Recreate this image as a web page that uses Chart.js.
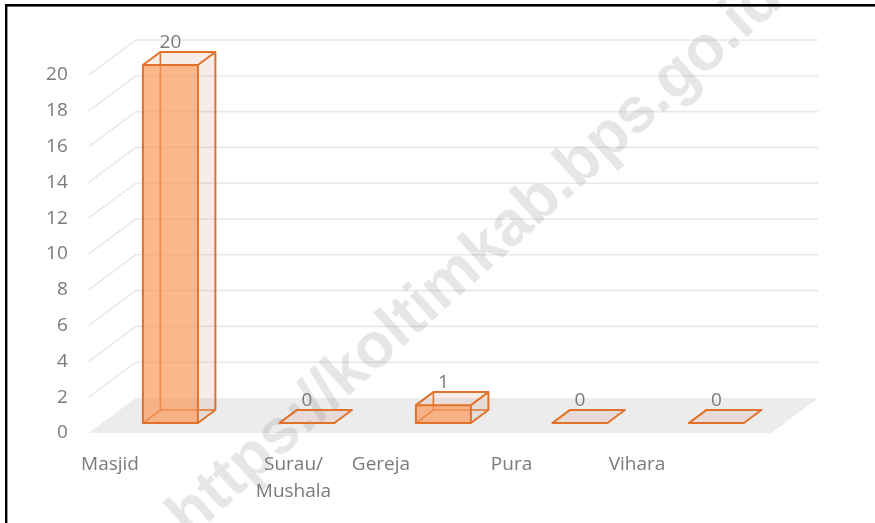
<!DOCTYPE html>
<html>
<head>
<meta charset="utf-8">
<script src="https://cdn.jsdelivr.net/npm/chart.js@4.4.0/dist/chart.umd.min.js"></script>
<style>
  html, body { margin: 0; padding: 0; background: #fff; }
  #wrap { width: 875px; height: 523px; }
</style>
</head>
<body>
<div id="wrap"><canvas id="chart"></canvas></div>
<script>
// Jumlah tempat ibadah
const categories = ['Masjid', ['Surau/', 'Mushala'], 'Gereja', 'Pura', 'Vihara'];
const values = [20, 0, 1, 0, 0];
const yTicks = [0, 2, 4, 6, 8, 10, 12, 14, 16, 18, 20];

// 3D look (pixels)
const DX = 47, DY = -35;          // floor depth
const FRONT = 0.285, BACK = 0.657; // bar depth position on the floor
const labelShift = [-47, 0, -49, -55, -66];
const textColor = '#7a7a7a';
const font = '19px "Open Sans", sans-serif';

const box3d = {
    id: 'box3d',
    beforeDatasetsDraw(chart) {
        const { ctx, chartArea: a, scales: { y } } = chart;
        ctx.save();
        // back wall + side wall gridlines
        ctx.strokeStyle = '#e9e9e9';
        ctx.lineWidth = 1.6;
        yTicks.forEach(v => {
            if (v === 0) return;
            const py = y.getPixelForValue(v);
            ctx.beginPath();
            ctx.moveTo(a.left, py);
            ctx.lineTo(a.left + DX, py + DY);
            ctx.lineTo(a.right + DX, py + DY);
            ctx.stroke();
        });
        // floor
        const fy = y.getPixelForValue(0);
        ctx.fillStyle = '#ececec';
        ctx.beginPath();
        ctx.moveTo(a.left, fy);
        ctx.lineTo(a.right, fy);
        ctx.lineTo(a.right + DX, fy + DY);
        ctx.lineTo(a.left + DX, fy + DY);
        ctx.closePath();
        ctx.fill();

        // watermark
        ctx.translate(476, 258);
        ctx.rotate(-42 * Math.PI / 180);
        ctx.fillStyle = 'rgba(120,120,120,0.19)';
        ctx.font = 'bold 63px "Liberation Sans", Arial, sans-serif';
        ctx.textAlign = 'center';
        ctx.textBaseline = 'middle';
        ctx.fillText('https://koltimkab.bps.go.id', 0, 0);
        ctx.restore();
    },
    afterDatasetsDraw(chart) {
        const { ctx, scales: { x } } = chart;
        const meta = chart.getDatasetMeta(0);
        const fx = DX * FRONT, fyo = DY * FRONT;
        const bx = DX * (BACK - FRONT), by = DY * (BACK - FRONT);
        ctx.save();
        ctx.lineJoin = 'round';
        meta.data.forEach((bar, i) => {
            const x0 = bar.x - bar.width / 2 + fx, x1 = bar.x + bar.width / 2 + fx;
            const yT = bar.y + fyo, yB = bar.base + fyo;
            const light = 'rgba(190,110,70,0.13)';
            const edge = '#e2712b';
            // side and top faces
            ctx.fillStyle = light;
            ctx.beginPath();
            ctx.moveTo(x1, yT); ctx.lineTo(x1 + bx, yT + by);
            ctx.lineTo(x1 + bx, yB + by); ctx.lineTo(x1, yB);
            ctx.closePath(); ctx.fill();
            ctx.beginPath();
            ctx.moveTo(x0, yT); ctx.lineTo(x1, yT);
            ctx.lineTo(x1 + bx, yT + by); ctx.lineTo(x0 + bx, yT + by);
            ctx.closePath(); ctx.fill();
            // hidden edges
            ctx.strokeStyle = edge;
            ctx.lineWidth = 1.6;
            ctx.beginPath();
            ctx.moveTo(x0, yB); ctx.lineTo(x0 + bx, yB + by); ctx.lineTo(x1 + bx, yB + by);
            ctx.moveTo(x0 + bx, yB + by); ctx.lineTo(x0 + bx, yT + by);
            ctx.stroke();
            // front face
            ctx.fillStyle = 'rgba(250,150,85,0.68)';
            ctx.fillRect(x0, yT, x1 - x0, yB - yT);
            ctx.lineWidth = 2;
            ctx.strokeRect(x0, yT, x1 - x0, yB - yT);
            // visible outline of top and side
            ctx.beginPath();
            ctx.moveTo(x0, yT); ctx.lineTo(x0 + bx, yT + by);
            ctx.lineTo(x1 + bx, yT + by); ctx.lineTo(x1, yT);
            ctx.moveTo(x1 + bx, yT + by); ctx.lineTo(x1 + bx, yB + by); ctx.lineTo(x1, yB);
            ctx.stroke();
            // value label
            ctx.fillStyle = textColor;
            ctx.font = font;
            ctx.textAlign = 'center';
            ctx.textBaseline = 'alphabetic';
            ctx.fillText(String(values[i]), (x0 + x1) / 2, yT + by - 4);
        });

        // category labels
        ctx.fillStyle = textColor;
        ctx.font = font;
        ctx.textAlign = 'center';
        categories.forEach((c, i) => {
            const lines = Array.isArray(c) ? c : [c];
            const cx = x.getPixelForValue(i) + labelShift[i];
            lines.forEach((t, j) => ctx.fillText(t, cx, 470 + j * 27));
        });

        // frame
        ctx.fillStyle = '#000';
        ctx.fillRect(5, 4, 875, 2.6);
        ctx.fillRect(5, 4, 2.4, 523);
        ctx.restore();
    }
};

new Chart(document.getElementById('chart'), {
    type: 'bar',
    data: {
        labels: categories,
        datasets: [{
            data: values,
            backgroundColor: 'rgba(0,0,0,0)',
            borderWidth: 0,
            barPercentage: 0.403,
            categoryPercentage: 1
        }]
    },
    options: {
        responsive: true,
        maintainAspectRatio: false,
        animation: false,
        layout: { padding: { left: 9.75, right: 103.75, top: 75, bottom: 90 } },
        plugins: { legend: { display: false }, tooltip: { enabled: false } },
        scales: {
            x: { display: false },
            y: {
                min: 0,
                max: 20,
                afterBuildTicks: s => { s.ticks = yTicks.map(v => ({ value: v })); },
                afterFit: s => { s.width = 79; },
                ticks: { padding: 21, color: textColor, font: { family: '"Open Sans", sans-serif', size: 19 } },
                grid: { display: false, drawTicks: false },
                border: { display: false }
            }
        }
    },
    plugins: [box3d]
});
</script>
</body>
</html>
